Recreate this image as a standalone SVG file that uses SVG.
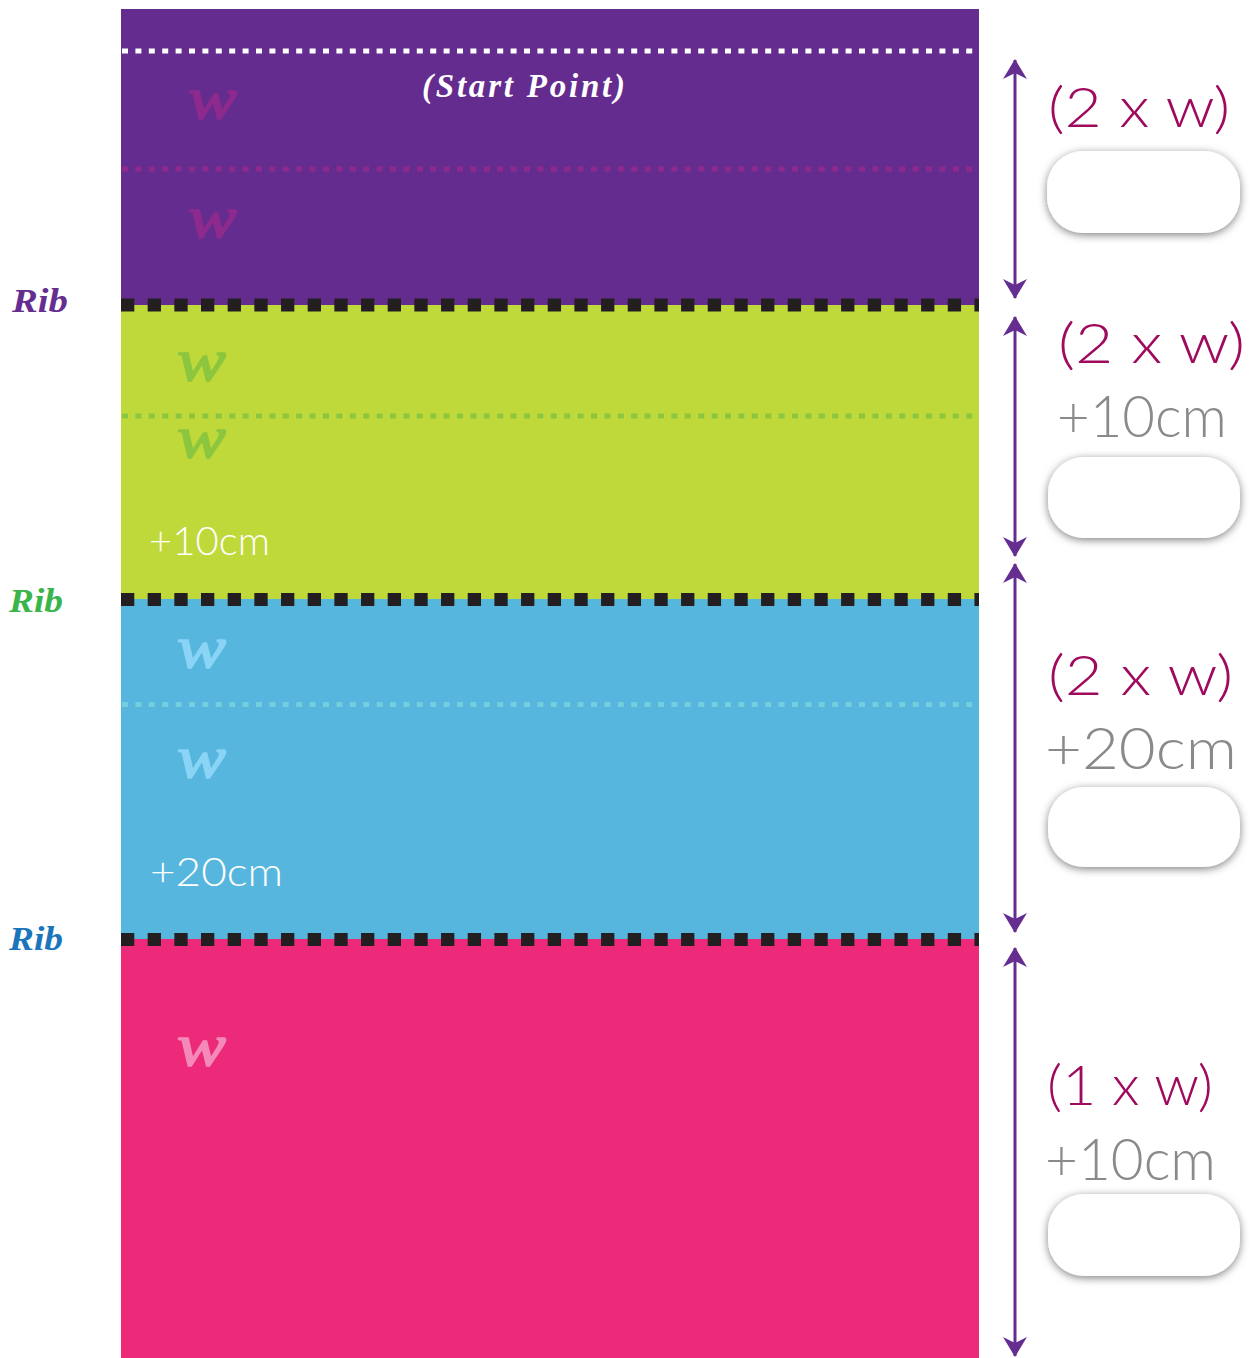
<svg xmlns="http://www.w3.org/2000/svg" width="1253" height="1358" viewBox="0 0 1253 1358">
<style>
.w{font-family:"Liberation Serif",serif;font-style:italic;font-weight:normal;font-size:60px;fill:currentColor;stroke:currentColor;stroke-width:1.6}
.rib{font-family:"Liberation Serif",serif;font-style:italic;font-weight:bold;font-size:34px}
.thin{font-family:Lato,"Open Sans",sans-serif;font-weight:300}
.lab{fill:#9e0a5e;font-size:56px}
.cm{fill:#8a8a8a;font-size:58px}
.wcm{fill:#ffffff;font-size:39px}
.rib-line{stroke:#231f20;stroke-width:13;stroke-dasharray:13.3 13.37;fill:none}
.fine{stroke-width:5;stroke-dasharray:6 7.4;fill:none}
.box{fill:#ffffff;filter:url(#sh)}
.arr{stroke:#662d91;stroke-width:3;fill:none;marker-start:url(#ah);marker-end:url(#ah)}
</style>
<defs>
<filter id="sh" x="-20%" y="-30%" width="140%" height="170%">
<feDropShadow dx="0" dy="2" stdDeviation="4" flood-color="#000" flood-opacity="0.5"/>
</filter>
<marker id="ah" viewBox="0 0 20 24" refX="19" refY="12" markerWidth="20" markerHeight="24" markerUnits="userSpaceOnUse" orient="auto-start-reverse">
<path d="M0,0 L20,12 L0,24 L6,12 Z" fill="#662d91"/>
</marker>
</defs>
<rect width="1253" height="1358" fill="#ffffff"/>

<g id="band-purple">
<rect x="121" y="9" width="858" height="296" fill="#652c8f"/>
<line x1="122" y1="51" x2="979" y2="51" class="fine" stroke="#ffffff"/>
<line x1="122" y1="169" x2="979" y2="169" class="fine" stroke="#8e2a8d"/>
<text x="188" y="118" class="w" color="#8e2a8d" textLength="49" lengthAdjust="spacingAndGlyphs">w</text>
<text x="188" y="237" class="w" color="#8e2a8d" textLength="49" lengthAdjust="spacingAndGlyphs">w</text>
<text x="422" y="97" font-family="Liberation Serif, serif" font-style="italic" font-weight="bold" font-size="33" fill="#ffffff" textLength="203" lengthAdjust="spacing">(Start Point)</text>
</g>

<g id="band-green">
<rect x="121" y="305" width="858" height="294" fill="#bfd83a"/>
<line x1="122" y1="416" x2="979" y2="416" class="fine" stroke="#8cc63f"/>
<text x="177" y="380" class="w" color="#8cc63f" textLength="49" lengthAdjust="spacingAndGlyphs">w</text>
<text x="177" y="457" class="w" color="#8cc63f" textLength="49" lengthAdjust="spacingAndGlyphs">w</text>
<text x="149" y="555" class="thin wcm" textLength="121" lengthAdjust="spacingAndGlyphs">+10cm</text>
</g>

<g id="band-blue">
<rect x="121" y="599" width="858" height="340" fill="#57b6dd"/>
<line x1="122" y1="704.5" x2="979" y2="704.5" class="fine" stroke="#73cedf"/>
<text x="177" y="667" class="w" color="#8ad4f6" textLength="49" lengthAdjust="spacingAndGlyphs">w</text>
<text x="177" y="777" class="w" color="#8ad4f6" textLength="49" lengthAdjust="spacingAndGlyphs">w</text>
<text x="150" y="886" class="thin wcm" textLength="133" lengthAdjust="spacingAndGlyphs">+20cm</text>
</g>

<g id="band-pink">
<rect x="121" y="939" width="858" height="419" fill="#ed2a7a"/>
<text x="177" y="1065" class="w" color="#f48ab9" textLength="49" lengthAdjust="spacingAndGlyphs">w</text>
</g>

<g id="rib-lines">
<line x1="121" y1="305" x2="979" y2="305" class="rib-line"/>
<line x1="121" y1="599.5" x2="979" y2="599.5" class="rib-line"/>
<line x1="121" y1="939.5" x2="979" y2="939.5" class="rib-line"/>
</g>

<g id="rib-labels">
<text x="12" y="312" class="rib" fill="#662d91" textLength="56" lengthAdjust="spacingAndGlyphs">Rib</text>
<text x="9" y="612" class="rib" fill="#39b54a" textLength="54" lengthAdjust="spacingAndGlyphs">Rib</text>
<text x="9" y="950" class="rib" fill="#1b75bc" textLength="54" lengthAdjust="spacingAndGlyphs">Rib</text>
</g>

<g id="connectors">
<line x1="1015" y1="60" x2="1015" y2="298" class="arr"/>
<line x1="1015" y1="317" x2="1015" y2="556" class="arr"/>
<line x1="1015" y1="564" x2="1015" y2="932" class="arr"/>
<line x1="1015" y1="948" x2="1015" y2="1356" class="arr"/>
</g>

<g id="measure-1">
<text x="1048" y="127" class="thin lab" textLength="182" lengthAdjust="spacingAndGlyphs">(2 x w)</text>
<rect x="1047" y="151" width="193" height="82" rx="36" class="box"/>
</g>
<g id="measure-2">
<text x="1058" y="363" class="thin lab" textLength="187" lengthAdjust="spacingAndGlyphs">(2 x w)</text>
<text x="1057" y="437" class="thin cm" textLength="170" lengthAdjust="spacingAndGlyphs">+10cm</text>
<rect x="1048" y="457" width="192" height="81" rx="36" class="box"/>
</g>
<g id="measure-3">
<text x="1048" y="695" class="thin lab" textLength="185" lengthAdjust="spacingAndGlyphs">(2 x w)</text>
<text x="1045" y="769" class="thin cm" textLength="192" lengthAdjust="spacingAndGlyphs">+20cm</text>
<rect x="1048" y="787" width="192" height="80" rx="36" class="box"/>
</g>
<g id="measure-4">
<text x="1047" y="1105" class="thin lab" textLength="166" lengthAdjust="spacingAndGlyphs">(1 x w)</text>
<text x="1045" y="1180" class="thin cm" textLength="171" lengthAdjust="spacingAndGlyphs">+10cm</text>
<rect x="1048" y="1194" width="192" height="82" rx="36" class="box"/>
</g>
</svg>
